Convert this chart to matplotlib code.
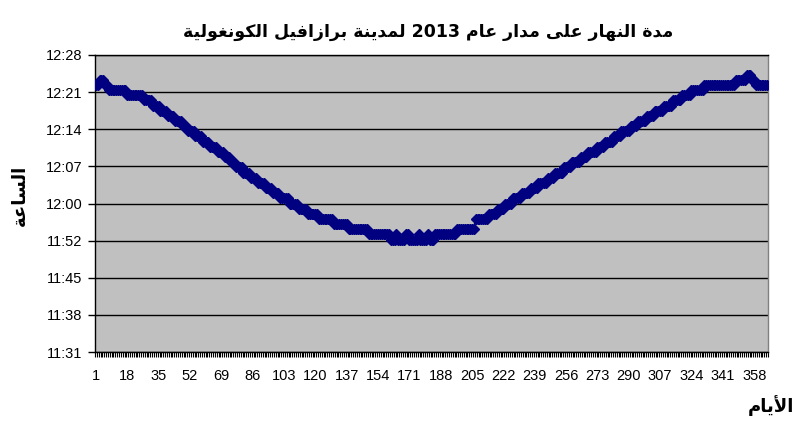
import numpy as np
import matplotlib
matplotlib.use("Agg")
import matplotlib.pyplot as plt
from matplotlib.ticker import FixedLocator, FuncFormatter

# ---------------- data ----------------
title_text = "مدة النهار على مدار عام 2013 لمدينة برازافيل الكونغولية"
ylabel_text = "الساعة"
xlabel_text = "الأيام"

# day length in minutes, as runs (value, number of consecutive days)
run_values = [743, 744, 743, 742, 741, 740, 739, 738, 737, 736, 735, 734, 733, 732, 731, 730,
              729, 728, 727, 726, 725, 724, 723, 722, 721, 720, 719, 718, 717, 716,
              715, 714,
              713, 714, 713, 714, 713, 714, 713, 714, 713,
              714, 715, 717, 718, 719, 720, 721, 722, 723, 724, 725, 726, 727, 728,
              729, 730, 731, 732, 733, 734, 735, 736, 737, 738, 739, 740, 741, 742,
              743, 744, 745, 744, 743]
run_counts = [2, 3, 2, 10, 9, 5, 4, 4, 4, 4, 3, 4, 4, 4, 4, 4,
              3, 3, 4, 4, 4, 4, 4, 4, 5, 5, 5, 6, 8, 8,
              11, 12,
              3, 1, 4, 2, 5, 1, 4, 1, 3,
              12, 10, 7, 5, 4, 4, 5, 5, 4, 5, 4, 5, 4, 5,
              4, 5, 4, 5, 4, 5, 4, 5, 4, 5, 5, 5, 5, 7,
              17, 6, 3, 2, 7]

days = np.arange(1, 366)
label_days = list(range(1, 366, 17))
y_ticks = [0.480, 0.485, 0.490, 0.495, 0.500, 0.505, 0.510, 0.515, 0.520]

minutes = np.repeat(run_values, run_counts)
n = min(len(minutes), len(days))
values = minutes[:n] / 1440.0

# ---------------- simple Arabic shaping for matplotlib ----------------
FORMS = {
    '\u0627': ('\uFE8D', '\uFE8E', None, None),
    '\u0623': ('\uFE83', '\uFE84', None, None),
    '\u0628': ('\uFE8F', '\uFE90', '\uFE91', '\uFE92'),
    '\u0629': ('\uFE93', '\uFE94', None, None),
    '\u062A': ('\uFE95', '\uFE96', '\uFE97', '\uFE98'),
    '\u062F': ('\uFEA9', '\uFEAA', None, None),
    '\u0631': ('\uFEAD', '\uFEAE', None, None),
    '\u0632': ('\uFEAF', '\uFEB0', None, None),
    '\u0633': ('\uFEB1', '\uFEB2', '\uFEB3', '\uFEB4'),
    '\u0639': ('\uFEC9', '\uFECA', '\uFECB', '\uFECC'),
    '\u063A': ('\uFECD', '\uFECE', '\uFECF', '\uFED0'),
    '\u0641': ('\uFED1', '\uFED2', '\uFED3', '\uFED4'),
    '\u0643': ('\uFED9', '\uFEDA', '\uFEDB', '\uFEDC'),
    '\u0644': ('\uFEDD', '\uFEDE', '\uFEDF', '\uFEE0'),
    '\u0645': ('\uFEE1', '\uFEE2', '\uFEE3', '\uFEE4'),
    '\u0646': ('\uFEE5', '\uFEE6', '\uFEE7', '\uFEE8'),
    '\u0647': ('\uFEE9', '\uFEEA', '\uFEEB', '\uFEEC'),
    '\u0648': ('\uFEED', '\uFEEE', None, None),
    '\u0649': ('\uFEEF', '\uFEF0', None, None),
    '\u064A': ('\uFEF1', '\uFEF2', '\uFEF3', '\uFEF4'),
}
LAM_ALEF = {'\u0627': ('\uFEFB', '\uFEFC'), '\u0623': ('\uFEF7', '\uFEF8')}


def shape_word(w):
    out = []
    i = 0
    L = len(w)
    while i < L:
        c = w[i]
        if c not in FORMS:
            out.append(c)
            i += 1
            continue
        prev = w[i - 1] if i > 0 else None
        join_prev = prev in FORMS and FORMS[prev][2] is not None
        if c == '\u0644' and i + 1 < L and w[i + 1] in LAM_ALEF:
            out.append(LAM_ALEF[w[i + 1]][1 if join_prev else 0])
            i += 2
            continue
        nxt = w[i + 1] if i + 1 < L else None
        join_next = FORMS[c][2] is not None and nxt in FORMS
        if join_prev and join_next:
            f = FORMS[c][3]
        elif join_prev:
            f = FORMS[c][1]
        elif join_next:
            f = FORMS[c][2]
        else:
            f = FORMS[c][0]
        out.append(f)
        i += 1
    return ''.join(out)


def rtl(text):
    toks = text.split(' ')
    vis = []
    for t in reversed(toks):
        if any(ch in FORMS for ch in t):
            vis.append(shape_word(t)[::-1])
        else:
            vis.append(t)
    return ' '.join(vis)


# ---------------- plot ----------------
plt.rcParams['font.family'] = ['Liberation Sans', 'DejaVu Sans']
fig = plt.figure(figsize=(7.97, 4.29), dpi=100)
ax = fig.add_axes([95 / 797, 1 - 352 / 429, (768 - 95) / 797, (352 - 55) / 429])
ax.set_facecolor('#C0C0C0')

x = np.arange(n)
ax.plot(x, values, color='#000080', lw=1.5, marker='D', markersize=5,
        markerfacecolor='#000080', markeredgecolor='#000080', zorder=3)

ax.set_xlim(-0.5, len(days) - 0.5)
ax.set_ylim(0.48, 0.52)
ax.yaxis.set_major_locator(FixedLocator(y_ticks))


def fmt(v, pos):
    s = int(round(v * 86400))
    return "%d:%02d" % (s // 3600, (s % 3600) // 60)


ax.yaxis.set_major_formatter(FuncFormatter(fmt))
ax.grid(axis='y', color='black', lw=1.0, zorder=1)
ax.set_axisbelow(True)

ax.set_xticks([d - 1 for d in label_days])
ax.set_xticklabels([str(d) for d in label_days])
ax.set_xticks(np.arange(-0.5, len(days)), minor=True)
ax.tick_params(axis='x', which='major', length=0, labelsize=10.5, pad=12)
ax.tick_params(axis='x', which='minor', length=3.5, width=0.8, direction='out')
ax.tick_params(axis='y', which='major', length=5, width=1, labelsize=10.5, pad=4)

for s in ['left', 'bottom', 'top']:
    ax.spines[s].set_color('black')
    ax.spines[s].set_linewidth(1)
ax.spines['right'].set_color('#808080')
ax.spines['right'].set_linewidth(1)

fig.text(428 / 797, 1 - 32 / 429, rtl(title_text), ha='center', va='center',
         fontsize=12.5, fontweight='bold', family=['DejaVu Sans'])
fig.text(20 / 797, 1 - 195 / 429, rtl(ylabel_text), ha='center', va='center',
         rotation=90, fontsize=13, fontweight='bold', family=['DejaVu Sans'])
fig.text(771 / 797, 1 - 406 / 429, rtl(xlabel_text), ha='center', va='center',
         fontsize=13, fontweight='bold', family=['DejaVu Sans'])

fig.savefig('out.png', dpi=100, facecolor='white')
